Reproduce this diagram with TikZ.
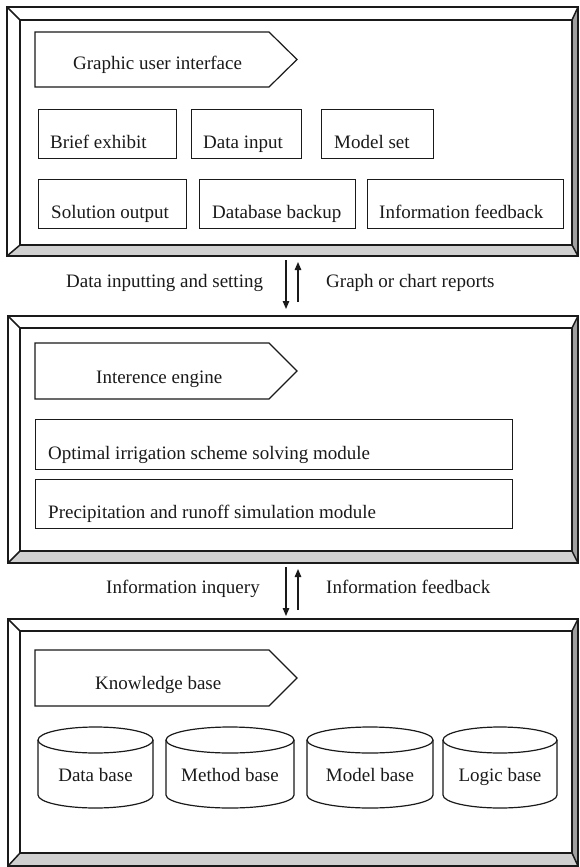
\documentclass[tikz,border=0pt]{standalone}
\usepackage{fontspec}
\newfontfamily\timesfont{Liberation Serif}
\usetikzlibrary{arrows.meta}
\definecolor{rbev}{HTML}{A0A0A0}
\definecolor{bbev}{HTML}{D0D0D0}
\definecolor{ink}{HTML}{1A1A1A}
\tikzset{
  frameline/.style={draw=ink, line width=1.5pt, line join=miter},
  boxline/.style={draw=ink, line width=1.2pt},
  box/.style={boxline, anchor=north west, inner sep=0pt, fill=white},
  txt/.style={inner sep=0pt, text=ink},
  conn/.style={draw=ink, line width=1.3pt, -{Triangle[length=8pt,width=6.5pt]}}
}
\newcommand{\bevframe}[8]{%
  \fill[white] (#1,#2) -- (#3,#2) -- (#7,#6) -- (#5,#6) -- cycle;
  \fill[white] (#1,#2) -- (#5,#6) -- (#5,#8) -- (#1,#4) -- cycle;
  \fill[rbev] (#3,#2) -- (#3,#4) -- (#7,#8) -- (#7,#6) -- cycle;
  \fill[bbev] (#1,#4) -- (#3,#4) -- (#7,#8) -- (#5,#8) -- cycle;
  \fill[white] (#5,#6) rectangle (#7,#8);
  \draw[frameline] (#1,#2) rectangle (#3,#4);
  \draw[frameline] (#5,#6) rectangle (#7,#8);
  \draw[frameline] (#1,#2) -- (#5,#6) (#3,#2) -- (#7,#6) (#1,#4) -- (#5,#8) (#3,#4) -- (#7,#8);
}
\newcommand{\pentag}[3]{% top y, bottom y, name
  \draw[boxline, fill=white] (35,#1) -- (269,#1) -- (297,{(#1+#2)/2}) -- (269,#2) -- (35,#2) -- cycle;
  \coordinate (#3) at (166,{(#1+#2)/2});
}
\newcommand{\dbcyl}[4]{% x1, x2, name, text
  \pgfmathsetmacro{\cx}{(#1+#2)/2}
  \pgfmathsetmacro{\rx}{(#2-#1)/2}
  \fill[white] (#1,740) -- (#1,795) arc[start angle=180, end angle=360, x radius=\rx pt, y radius=13pt] -- (#2,740) -- cycle;
  \draw[boxline] (\cx,740) ellipse [x radius=\rx pt, y radius=13pt];
  \draw[boxline] (#1,740) -- (#1,795) arc[start angle=180, end angle=360, x radius=\rx pt, y radius=13pt] -- (#2,740);
  \node[txt, anchor=base] (#3) at (\cx,781) {#4};
}
\begin{document}
\begin{tikzpicture}[x=1pt, y=-1pt, font=\timesfont\fontsize{19}{22}\selectfont]
\useasboundingbox (0,0) rectangle (579,867);
\fill[white] (0,0) rectangle (579,867);

% ---------- Frame 1: user interface ----------
\bevframe{7}{7}{578}{256}{20}{20}{572}{245}
\pentag{32}{87}{gui}
\node[txt, anchor=base west] (guit) at (73,70) {Graphic user interface};

\node[box, minimum width=138pt, minimum height=49pt] (brief) at (38,109) {};
\node[txt, anchor=base west] (brieft) at (50,148) {Brief exhibit};
\node[box, minimum width=110pt, minimum height=49pt] (dinput) at (191,109) {};
\node[txt, anchor=base west] (dinputt) at (203,148) {Data input};
\node[box, minimum width=112pt, minimum height=49pt] (mset) at (321,109) {};
\node[txt, anchor=base west] (msett) at (334,148) {Model set};

\node[box, minimum width=148pt, minimum height=49pt] (solout) at (38,179) {};
\node[txt, anchor=base west] (soloutt) at (51,218) {Solution output};
\node[box, minimum width=156pt, minimum height=49pt] (dbback) at (199,179) {};
\node[txt, anchor=base west] (dbbackt) at (212,218) {Database backup};
\node[box, minimum width=196pt, minimum height=49pt] (infofb) at (367,179) {};
\node[txt, anchor=base west] (infofbt) at (379,218) {Information feedback};

% ---------- arrows 1 ----------
\coordinate (d1s) at (286,260);
\coordinate (d1e) at (286,309);
\coordinate (u1s) at (298,302);
\coordinate (u1e) at (298,262);
\draw[conn] (d1s) -- (d1e);
\draw[conn] (u1s) -- (u1e);
\node[txt, anchor=base west] (dis) at (66,287) {Data inputting and setting};
\node[txt, anchor=base west] (gcr) at (326,287) {Graph or chart reports};

% ---------- Frame 2: inference engine ----------
\bevframe{8}{316}{578}{563}{20}{328}{572}{551}
\pentag{343}{399}{ie}
\node[txt, anchor=base west] (iet) at (96,383) {Interence engine};
\node[box, minimum width=477pt, minimum height=50pt] (opt) at (35,419) {};
\node[txt, anchor=base west] (optt) at (48,459) {Optimal irrigation scheme solving module};
\node[box, minimum width=477pt, minimum height=49pt] (prec) at (35,479) {};
\node[txt, anchor=base west] (prect) at (48,518) {Precipitation and runoff simulation module};

% ---------- arrows 2 ----------
\coordinate (d2s) at (286,567);
\coordinate (d2e) at (286,616);
\coordinate (u2s) at (298,610);
\coordinate (u2e) at (298,569);
\draw[conn] (d2s) -- (d2e);
\draw[conn] (u2s) -- (u2e);
\node[txt, anchor=base west] (iinq) at (106,593) {Information inquery};
\node[txt, anchor=base west] (ifb) at (326,593) {Information feedback};

% ---------- Frame 3: knowledge base ----------
\bevframe{8}{619}{578}{866}{20}{631}{572}{853}
\pentag{650}{706}{kb}
\node[txt, anchor=base west] (kbt) at (95,689) {Knowledge base};
\dbcyl{38}{153}{datab}{Data base}
\dbcyl{166}{294}{methb}{Method base}
\dbcyl{307}{433}{modb}{Model base}
\dbcyl{443}{557}{logb}{Logic base}
\end{tikzpicture}
\end{document}
